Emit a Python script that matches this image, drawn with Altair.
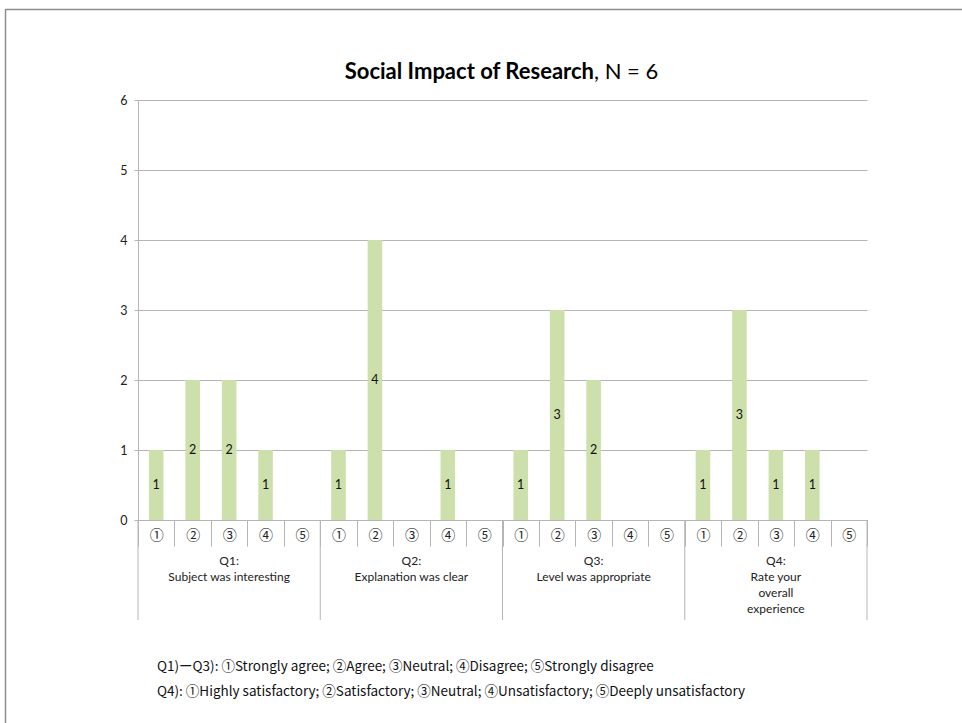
import altair as alt
import pandas as pd

# Survey counts per question and response option
questions = ["Q1", "Q2", "Q3", "Q4"]
question_labels = [
    "Q1:\nSubject was interesting",
    "Q2:\nExplanation was clear",
    "Q3:\nLevel was appropriate",
    "Q4:\nRate your\noverall\nexperience",
]
options = ["①", "②", "③", "④", "⑤"]
q1_counts = [1, 2, 2, 1, 0]
q2_counts = [1, 4, 0, 1, 0]
q3_counts = [1, 3, 2, 0, 0]
q4_counts = [1, 3, 1, 1, 0]
y_ticks = [0, 1, 2, 3, 4, 5, 6]

title_bold = "Social Impact of Research"
title_rest = ", N = 6"
footnote_1 = "Q1)ーQ3): ①Strongly agree; ②Agree; ③Neutral; ④Disagree; ⑤Strongly disagree"
footnote_2 = "Q4): ①Highly satisfactory; ②Satisfactory; ③Neutral; ④Unsatisfactory; ⑤Deeply unsatisfactory"

all_counts = [q1_counts, q2_counts, q3_counts, q4_counts]
rows = []
for q, counts in zip(questions, all_counts):
    for o, c in zip(options, counts):
        rows.append({"key": f"{q}|{o}", "question": q, "option": o, "value": c})
df = pd.DataFrame(rows)
keys = list(df["key"])

groups = pd.DataFrame({
    "question": questions,
    "label": question_labels,
    "first": [f"{q}|①" for q in questions],
    "middle": [f"{q}|③" for q in questions],
})

W, H = 729, 420
FONT = "Lato, 'Noto Sans CJK JP'"
NOTE_FONT = "'Noto Sans CJK JP'"
GRID = "#b5b5b5"
BAR = "#cddfaa"

# one band per response slot; bars take 40% of their slot, centred
xscale = alt.Scale(domain=keys, paddingInner=0, paddingOuter=0)
yscale = alt.Scale(domain=[0, 6], nice=False)

base = alt.Chart(df)

bars = base.mark_bar(color=BAR, width=alt.RelativeBandSize(0.4)).encode(
    x=alt.X(
        "key:N",
        scale=xscale,
        sort=keys,
        title=None,
        axis=alt.Axis(
            labelExpr="split(datum.value, '|')[1]",
            labelAngle=0,
            labelFont="Noto Sans CJK JP",
            labelFontSize=14,
            labelColor="#222",
            labelPadding=-18,
            tickBand="extent",
            tickSize=26,
            tickColor=GRID,
            domainColor=GRID,
            grid=False,
        ),
    ),
    y=alt.Y(
        "value:Q",
        scale=yscale,
        title=None,
        axis=alt.Axis(
            values=y_ticks,
            format="d",
            grid=True,
            gridColor=GRID,
            domainColor=GRID,
            tickColor=GRID,
            tickSize=4,
            labelFont=FONT,
            labelFontSize=12.5,
            labelColor="#222",
            labelPadding=7,
        ),
    ),
)

value_labels = (
    base.transform_filter("datum.value > 0")
    .transform_calculate(mid="datum.value / 2")
    .mark_text(font=FONT, fontSize=12.5, color="#111", baseline="middle")
    .encode(
        x=alt.X("key:N", scale=xscale, sort=keys),
        y=alt.Y("mid:Q", scale=yscale),
        text=alt.Text("value:Q", format="d"),
    )
)

gbase = alt.Chart(groups)

group_lines = gbase.mark_rule(color=GRID, strokeWidth=1).encode(
    x=alt.X("first:N", scale=xscale, sort=keys, bandPosition=0),
    y=alt.value(H),
    y2=alt.value(H + 100),
)
end_line = (
    gbase.transform_filter("datum.question == 'Q4'")
    .transform_calculate(last="'Q4|⑤'")
    .mark_rule(color=GRID, strokeWidth=1)
    .encode(
        x=alt.X("last:N", scale=xscale, sort=keys, bandPosition=1),
        y=alt.value(H),
        y2=alt.value(H + 100),
    )
)

group_text = gbase.mark_text(
    font=FONT, fontSize=12, color="#222", baseline="top", lineBreak="\n", lineHeight=16
).encode(
    x=alt.X("middle:N", scale=xscale, sort=keys),
    y=alt.value(H + 36),
    text="label:N",
)


def free_text(s, **kw):
    return alt.Chart(pd.DataFrame({"t": [s]})).mark_text(**kw)


title_a = free_text(
    title_bold, font=FONT, fontSize=22, fontWeight="bold", align="right", baseline="middle", color="#000"
).encode(x=alt.value(456), y=alt.value(-28), text="t:N")
title_b = free_text(
    title_rest, font=FONT, fontSize=22, align="left", baseline="middle", color="#000"
).encode(x=alt.value(456), y=alt.value(-28), text="t:N")

note_1 = free_text(
    footnote_1, font=NOTE_FONT, fontSize=13.5, align="left", baseline="middle", color="#111"
).encode(x=alt.value(19), y=alt.value(H + 147), text="t:N")
note_2 = free_text(
    footnote_2, font=NOTE_FONT, fontSize=13.5, align="left", baseline="middle", color="#111"
).encode(x=alt.value(19), y=alt.value(H + 172), text="t:N")

frame_top = alt.Chart(pd.DataFrame({"a": [0]})).mark_rule(color="#8e8e8e", strokeWidth=1.5).encode(
    x=alt.value(-133), x2=alt.value(W + 95), y=alt.value(-90.5)
)
frame_left = alt.Chart(pd.DataFrame({"a": [0]})).mark_rule(color="#8e8e8e", strokeWidth=1.5).encode(
    x=alt.value(-132.5), y=alt.value(-91), y2=alt.value(H + 203)
)

chart = (
    alt.layer(
        bars, value_labels, group_lines, end_line, group_text,
        title_a, title_b, note_1, note_2, frame_top, frame_left,
    )
    .properties(
        width=W,
        height=H,
        autosize=alt.AutoSizeParams(type="none"),
        padding={"left": 138, "top": 100, "right": 95, "bottom": 203},
        background="white",
    )
    .configure_view(stroke=None)
)

chart.save("out.html", embed_options={"renderer": "svg", "actions": False})
